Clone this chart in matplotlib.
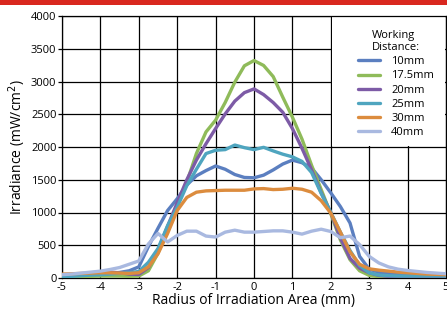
import matplotlib
matplotlib.use('Agg')
import matplotlib.pyplot as plt
from matplotlib.patches import Rectangle

plt.rcParams['font.family'] = ['Open Sans', 'DejaVu Sans']
plt.rcParams['axes.unicode_minus'] = False

# Radius positions (mm)
radius = [-5, -4.75, -4.5, -4.25, -4, -3.75, -3.5, -3.25, -3, -2.75, -2.5, -2.25, -2,
          -1.75, -1.5, -1.25, -1, -0.75, -0.5, -0.25, 0, 0.25, 0.5, 0.75, 1, 1.25,
          1.5, 1.75, 2, 2.25, 2.5, 2.75, 3, 3.25, 3.5, 3.75, 4, 4.25, 4.5, 4.75, 5]

# Irradiance (mW/cm2) for each working distance
wd_10 = [30, 35, 45, 55, 60, 70, 85, 110, 170, 480, 760, 1030, 1210,
         1420, 1560, 1640, 1710, 1660, 1580, 1535, 1530, 1570, 1650, 1740, 1800, 1760,
         1680, 1500, 1300, 1090, 840, 330, 135, 90, 70, 60, 50, 45, 42, 40, 38]
wd_17_5 = [10, 15, 20, 25, 30, 30, 30, 25, 30, 110, 380, 740, 1100,
           1460, 1900, 2230, 2410, 2680, 2990, 3240, 3320, 3245, 3075, 2760, 2456, 2120,
           1720, 1350, 980, 580, 280, 110, 40, 20, 15, 15, 12, 12, 12, 12, 12]
wd_20 = [30, 40, 60, 80, 90, 90, 80, 60, 55, 160, 430, 790, 1150,
         1500, 1800, 2050, 2282, 2505, 2700, 2830, 2887, 2800, 2679, 2530, 2282, 1980,
         1650, 1300, 1000, 610, 300, 150, 80, 40, 25, 20, 15, 15, 15, 15, 15]
wd_25 = [20, 25, 35, 45, 50, 60, 70, 80, 100, 240, 450, 800, 1080,
         1410, 1660, 1900, 1950, 1960, 2030, 1990, 1960, 1995, 1940, 1890, 1850, 1780,
         1610, 1290, 1000, 700, 420, 190, 80, 45, 35, 30, 30, 30, 30, 30, 30]
wd_30 = [60, 65, 70, 75, 80, 80, 75, 70, 80, 170, 370, 680, 1030,
         1230, 1310, 1330, 1335, 1340, 1340, 1340, 1360, 1365, 1350, 1355, 1370, 1355,
         1310, 1180, 990, 700, 400, 210, 140, 120, 105, 90, 80, 70, 60, 55, 50]
wd_40 = [50, 60, 75, 90, 105, 130, 160, 210, 260, 520, 680, 550, 650,
         715, 715, 640, 625, 700, 730, 700, 700, 710, 720, 720, 700, 670,
         715, 745, 710, 615, 640, 510, 330, 230, 170, 135, 115, 100, 85, 75, 65]

labels = ['10mm', '17.5mm', '20mm', '25mm', '30mm', '40mm']
series = [wd_10, wd_17_5, wd_20, wd_25, wd_30, wd_40]
colors = ['#5b7fc0', '#8fbb5a', '#7d5ba6', '#4fa5bf', '#dc8c3e', '#a9b9e0']

fig = plt.figure(figsize=(4.47, 3.18), dpi=100)
ax = fig.add_axes([62 / 447, 40 / 318, 384 / 447, 262 / 318])

# red banner along the top edge
fig.patches.append(Rectangle((0, 1 - 5 / 318), 1, 5 / 318, transform=fig.transFigure,
                             facecolor='#d9281f', edgecolor='none'))

for vals, lab, col in zip(series, labels, colors):
    ax.plot(radius, vals, color=col, lw=2.4, label=lab, zorder=3,
            solid_capstyle='round', solid_joinstyle='round')

ax.set_xlim(-5, 5)
ax.set_ylim(0, 4000)
ax.set_xticks(range(-5, 6))
ax.set_yticks(range(0, 4001, 500))
ax.grid(True, color='black', lw=0.9, zorder=0)
ax.set_axisbelow(True)

# white panel behind the legend
ax.add_patch(Rectangle((2.03, 2020), 2.94, 1960, facecolor='white',
                       edgecolor='none', zorder=1))

for s in ax.spines.values():
    s.set_color('black')
    s.set_linewidth(0.9)

ax.tick_params(axis='y', length=3, width=0.9, pad=1, labelsize=8)
ax.tick_params(axis='x', length=0, pad=3, labelsize=8)

ax.set_xlabel('Radius of Irradiation Area (mm)', fontsize=10, labelpad=0)
ax.set_ylabel('Irradiance (mW/cm$^2$)', fontsize=10, labelpad=2)

leg = ax.legend(title='Working\nDistance:', loc='upper center',
                bbox_to_anchor=(0.87, 0.965), frameon=False, fontsize=8,
                title_fontsize=8, handlelength=2.0, handletextpad=1.0,
                labelspacing=0.28, borderaxespad=0)
for h in leg.get_lines():
    h.set_linewidth(2.4)

fig.savefig('out.png', dpi=100)
